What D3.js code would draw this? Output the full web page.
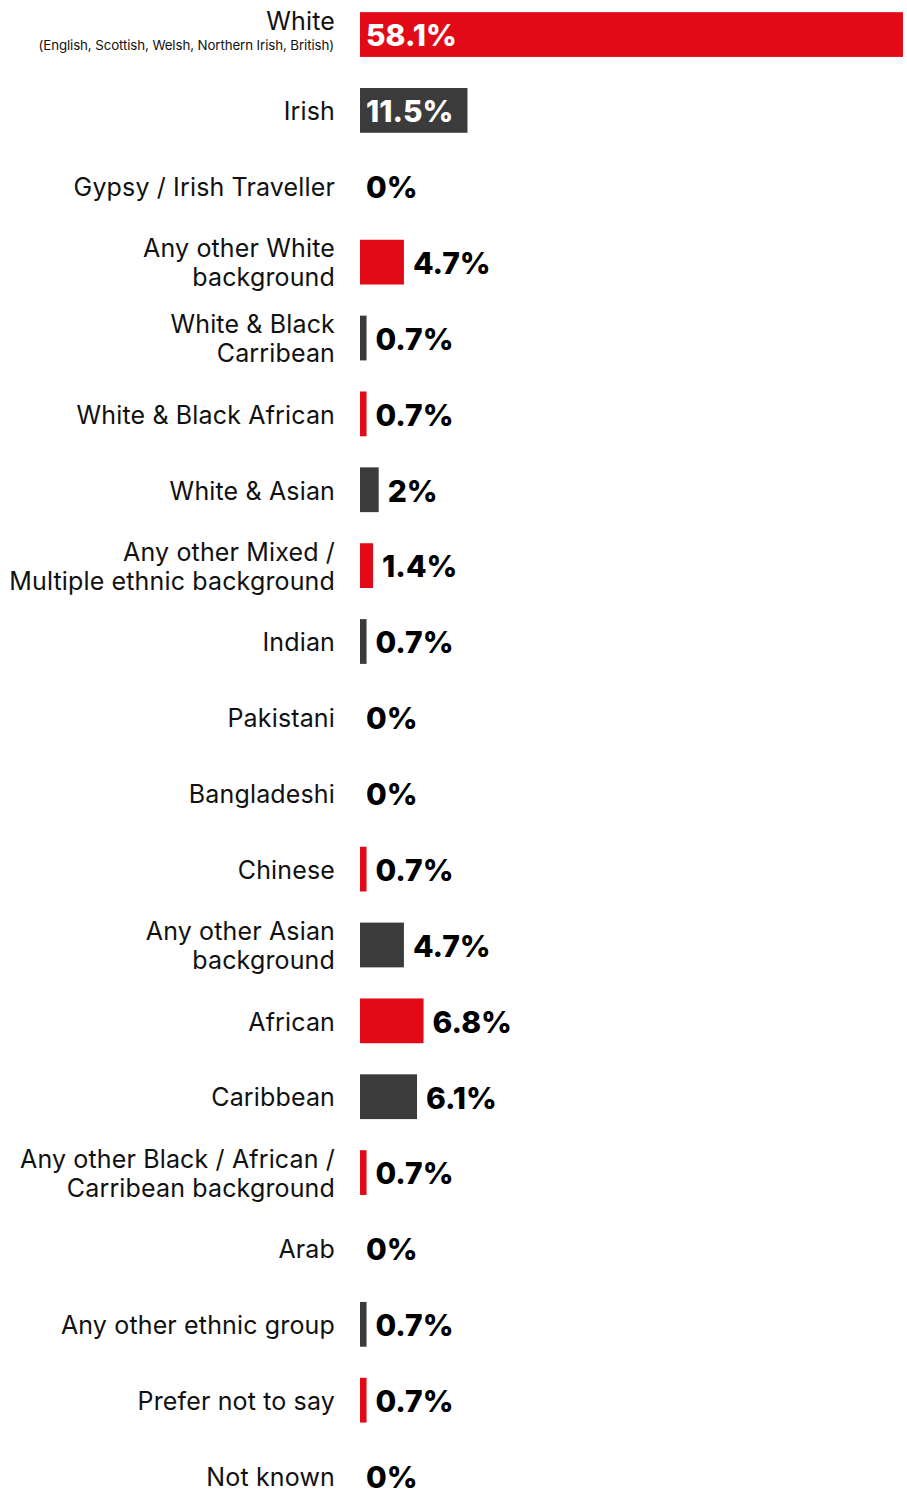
<!DOCTYPE html>
<html>
<head>
<meta charset="utf-8">
<script src="https://cdn.jsdelivr.net/npm/d3@7"></script>
<style>
  html, body { margin: 0; padding: 0; background: #ffffff; }
  svg { display: block; }
</style>
</head>
<body>
<div id="chart"></div>
<script>
// Ethnic background breakdown (percent of respondents)
const categories = [
  "White", "Irish", "Gypsy / Irish Traveller", "Any other White background",
  "White & Black Carribean", "White & Black African", "White & Asian",
  "Any other Mixed / Multiple ethnic background", "Indian", "Pakistani",
  "Bangladeshi", "Chinese", "Any other Asian background", "African",
  "Caribbean", "Any other Black / African / Carribean background", "Arab",
  "Any other ethnic group", "Prefer not to say", "Not known"
];
// Line breaks used when printing each category name
const labelLines = [
  ["White"], ["Irish"], ["Gypsy / Irish Traveller"], ["Any other White", "background"],
  ["White & Black", "Carribean"], ["White & Black African"], ["White & Asian"],
  ["Any other Mixed /", "Multiple ethnic background"], ["Indian"], ["Pakistani"],
  ["Bangladeshi"], ["Chinese"], ["Any other Asian", "background"], ["African"],
  ["Caribbean"], ["Any other Black / African /", "Carribean background"], ["Arab"],
  ["Any other ethnic group"], ["Prefer not to say"], ["Not known"]
];
const subLabels = ["(English, Scottish, Welsh, Northern Irish, British)"];
const values = [58.1, 11.5, 0, 4.7, 0.7, 0.7, 2, 1.4, 0.7, 0, 0, 0.7, 4.7, 6.8, 6.1, 0.7, 0, 0.7, 0.7, 0];
const valueLabels = ["58.1%", "11.5%", "0%", "4.7%", "0.7%", "0.7%", "2%", "1.4%", "0.7%", "0%",
  "0%", "0.7%", "4.7%", "6.8%", "6.1%", "0.7%", "0%", "0.7%", "0.7%", "0%"];

const W = 907, H = 1499;
const RED = "#e20a17", DARK = "#3b3b3b";
const labelFont = "Inter, 'Noto Sans', sans-serif";

const svg = d3.select("#chart").append("svg").attr("width", W).attr("height", H);

const x = d3.scaleLinear().domain([0, 58.1]).range([360, 903]);
const y = d3.scaleBand().domain(categories).range([-3.4, 1514])
  .paddingInner(0.41).paddingOuter(0.205);

// Colours alternate red / dark among the bars that are drawn (non-zero values)
let k = 0;
const colours = values.map(v => v > 0 ? (k++ % 2 === 0 ? RED : DARK) : null);

const rows = categories.map((c, i) => ({
  cat: c, value: values[i], label: valueLabels[i], lines: labelLines[i], colour: colours[i], i
}));

const g = svg.append("g");

// Bars
g.selectAll("rect.bar").data(rows.filter(d => d.value > 0)).join("rect")
  .attr("class", "bar")
  .attr("x", x(0))
  .attr("y", d => y(d.cat))
  .attr("width", d => x(d.value) - x(0))
  .attr("height", y.bandwidth())
  .attr("fill", d => d.colour);

// Category labels, right aligned
const lineH = 29;
const catText = g.selectAll("text.cat").data(rows).join("text")
  .attr("class", "cat")
  .attr("text-anchor", "end")
  .attr("font-family", labelFont)
  .attr("font-size", 25)
  .attr("letter-spacing", 0.15)
  .attr("fill", "#111");

catText.each(function(d) {
  const t = d3.select(this);
  const cy = y(d.cat) + y.bandwidth() / 2;
  if (d.i === 0) {
    t.append("tspan").attr("x", 335).attr("y", cy - 13).attr("dy", "0.35em").text(d.lines[0]);
    return;
  }
  const n = d.lines.length;
  d.lines.forEach((ln, j) => {
    t.append("tspan")
      .attr("x", 335)
      .attr("y", cy + (j - (n - 1) / 2) * lineH + 1)
      .attr("dy", "0.35em")
      .text(ln);
  });
});

// Sub-label under "White"
g.append("text")
  .attr("x", 334)
  .attr("y", y(categories[0]) + y.bandwidth() / 2 + 11)
  .attr("dy", "0.35em")
  .attr("text-anchor", "end")
  .attr("font-family", labelFont)
  .attr("font-size", 13.3)
  .attr("letter-spacing", -0.1)
  .attr("fill", "#111")
  .text(subLabels[0]);

// Value labels: inside wide bars in white, otherwise just past the bar end
g.selectAll("text.val").data(rows).join("text")
  .attr("class", "val")
  .attr("font-family", labelFont)
  .attr("font-weight", 800)
  .attr("font-size", 30)
  .attr("dy", "0.36em")
  .attr("y", d => y(d.cat) + y.bandwidth() / 2 + 1)
  .attr("x", d => d.value > 10 || d.value === 0 ? x(0) + 6 : x(d.value) + 9)
  .attr("fill", d => d.value > 10 ? "#ffffff" : "#000000")
  .text(d => d.label);
</script>
</body>
</html>
